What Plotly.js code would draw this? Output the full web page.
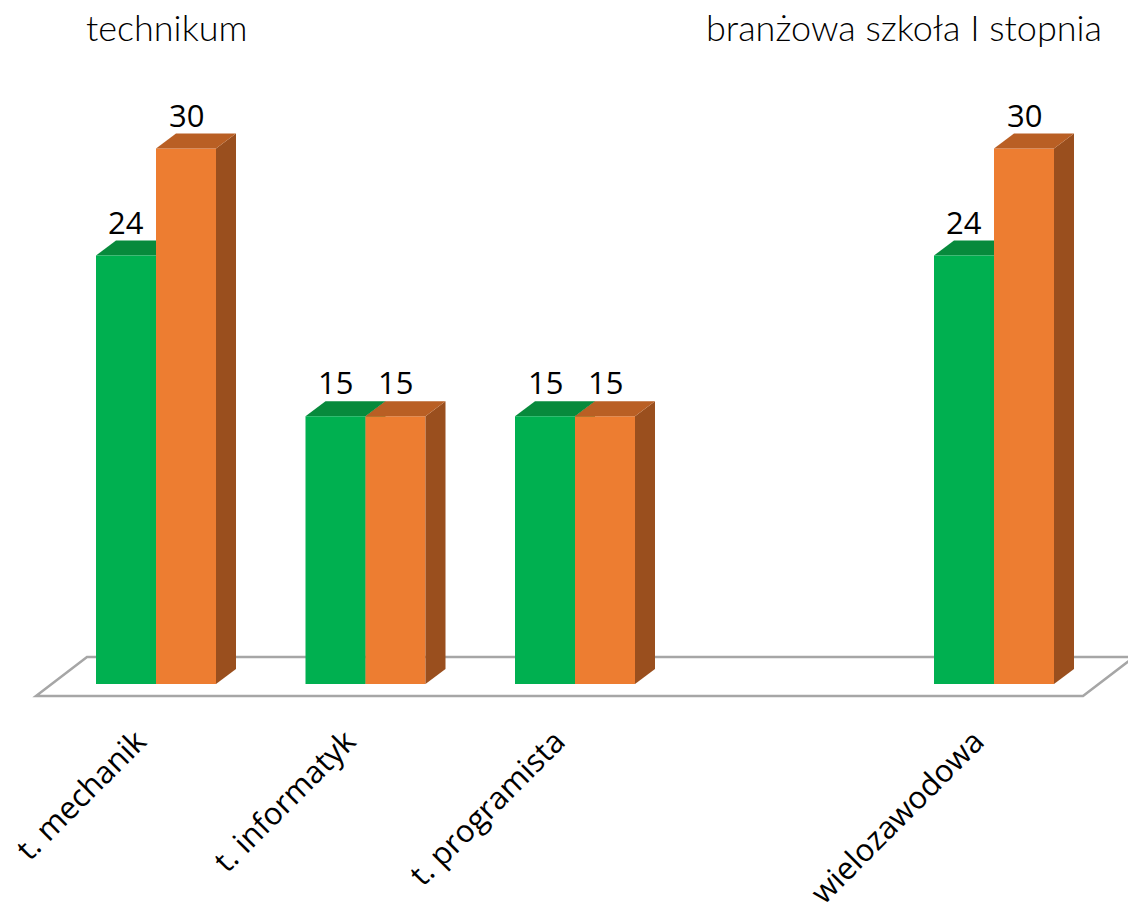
<!DOCTYPE html>
<html>
<head>
<meta charset="utf-8">
<script src="https://cdn.plot.ly/plotly-3.0.1.min.js"></script>
<style>html,body{margin:0;padding:0;background:#fff;}#chart{width:1128px;height:914px;}</style>
</head>
<body>
<div id="chart"></div>
<script>
// ---- data ----
const categories = ["t. mechanik", "t. informatyk", "t. programista", "", "wielozawodowa"];
const greenValues = [24, 15, 15, null, 24];
const orangeValues = [30, 15, 15, null, 30];
const groupHeaders = ["technikum", "branżowa szkoła I stopnia"];

// ---- style constants ----
const GREEN = "#00B050", GREEN_TOP = "#078A3C", GREEN_SIDE = "#067A35";
const ORANGE = "#ED7D31", ORANGE_TOP = "#B95F24", ORANGE_SIDE = "#9A4F1E";
const PX_PER_CAT = 209.5, PX_PER_UNIT = 17.85;
const BW = 60 / PX_PER_CAT;          // bar width in category units
const DX = 20 / PX_PER_CAT;          // depth offset x
const DY = 15 / PX_PER_UNIT;         // depth offset y
const LABEL_FONT = "Open Sans, Noto Sans, sans-serif";

const idx = categories.map((_, i) => i);

function path(pts) { return "M" + pts.map(p => p[0] + "," + p[1]).join("L") + "Z"; }

const shapes = [];
// floor
const fLeft = -120 / PX_PER_CAT, fRight = (categories.length - 1) + 89 / PX_PER_CAT;
const fFront = -12 / PX_PER_UNIT, fBack = 27 / PX_PER_UNIT, fShift = 51 / PX_PER_CAT;
shapes.push({type: "path", xref: "x", yref: "y", layer: "below",
  path: path([[fLeft, fFront], [fRight, fFront], [fRight + fShift, fBack], [fLeft + fShift, fBack]]),
  fillcolor: "#ffffff", line: {color: "#A6A6A6", width: 2.5}});

idx.forEach(i => {
  const g = greenValues[i], o = orangeValues[i];
  if (g != null) {
    const x0 = i - BW, x1 = i;
    shapes.push({type: "path", xref: "x", yref: "y", layer: "below",
      path: path([[x1, 0], [x1, g], [x1 + DX, g + DY], [x1 + DX, DY]]),
      fillcolor: GREEN_SIDE, line: {width: 0}});
    shapes.push({type: "path", xref: "x", yref: "y", layer: "below",
      path: path([[x0, g], [x1, g], [x1 + DX, g + DY], [x0 + DX, g + DY]]),
      fillcolor: GREEN_TOP, line: {width: 0}});
  }
  if (o != null) {
    const x0 = i, x1 = i + BW;
    shapes.push({type: "path", xref: "x", yref: "y", layer: "above",
      path: path([[x1, 0], [x1, o], [x1 + DX, o + DY], [x1 + DX, DY]]),
      fillcolor: ORANGE_SIDE, line: {width: 0}});
    shapes.push({type: "path", xref: "x", yref: "y", layer: "above",
      path: path([[x0, o], [x1, o], [x1 + DX, o + DY], [x0 + DX, o + DY]]),
      fillcolor: ORANGE_TOP, line: {width: 0}});
  }
});

const annotations = [];
idx.forEach(i => {
  [[greenValues[i], i - BW / 2], [orangeValues[i], i + BW / 2]].forEach(([v, x]) => {
    if (v == null) return;
    annotations.push({x: x, y: v, xref: "x", yref: "y", text: String(v), showarrow: false,
      yanchor: "middle", yshift: 34, font: {family: LABEL_FONT, size: 31, color: "#000"}});
  });
});
const HEADER_FONT = {family: "Lato, sans-serif", size: 36, color: "#000", weight: 300};
annotations.push({xref: "paper", yref: "paper", x: 84 / 1128, y: 1 - 27 / 710, xanchor: "left", yanchor: "middle",
  text: groupHeaders[0], showarrow: false, font: HEADER_FONT});
annotations.push({xref: "paper", yref: "paper", x: 704 / 1128, y: 1 - 27 / 710, xanchor: "left", yanchor: "middle",
  text: groupHeaders[1], showarrow: false, font: HEADER_FONT});

const traces = [
  {type: "bar", x: idx, y: greenValues, marker: {color: GREEN, line: {width: 0}}, showlegend: false, hoverinfo: "skip"},
  {type: "bar", x: idx, y: orangeValues, marker: {color: ORANGE, line: {width: 0}}, showlegend: false, hoverinfo: "skip"}
];

const layout = {
  width: 1128, height: 914,
  margin: {l: 0, r: 0, t: 0, b: 204},
  paper_bgcolor: "#fff", plot_bgcolor: "#fff",
  barmode: "group", bargap: 1 - 2 * BW, bargroupgap: 0,
  xaxis: {range: [-156 / PX_PER_CAT, (1128 - 156) / PX_PER_CAT], tickvals: idx, ticktext: categories,
    tickangle: -45, tickfont: {family: LABEL_FONT, size: 31, color: "#000"},
    ticklabelshift: -19, ticklabelstandoff: 6,
    showgrid: false, zeroline: false, showline: false, ticks: ""},
  yaxis: {range: [(684 - 710) / PX_PER_UNIT, 684 / PX_PER_UNIT], visible: false, showgrid: false, zeroline: false},
  shapes: shapes, annotations: annotations, showlegend: false
};

Plotly.newPlot("chart", traces, layout, {displayModeBar: false, staticPlot: true});
</script>
</body>
</html>
